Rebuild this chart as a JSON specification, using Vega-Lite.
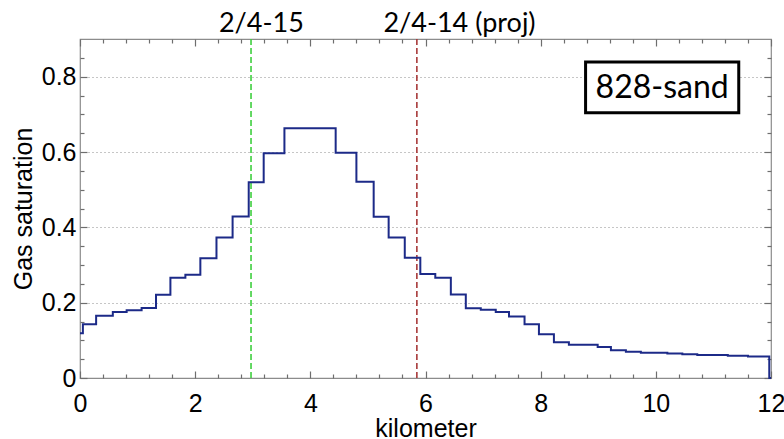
{
  "$schema": "https://vega.github.io/schema/vega-lite/v6.json",
  "width": 691,
  "height": 339,
  "autosize": "none",
  "padding": {"left": 80, "top": 39, "right": 13, "bottom": 61},
  "background": "white",
  "config": {
    "view": {"stroke": "#8c8c8c", "strokeWidth": 1.2},
    "axis": {
      "labelFont": "Liberation Sans",
      "titleFont": "Liberation Sans",
      "labelColor": "black",
      "titleColor": "black",
      "labelFontSize": 25,
      "titleFontSize": 25,
      "titleFontWeight": "normal",
      "domain": false,
      "tickColor": "#6e6e6e",
      "tickWidth": 1.2,
      "labelFlush": false,
      "labelOverlap": false,
      "grid": false
    }
  },
  "datasets": {
    "profile": [
      {"km": 0, "sat": 0.119},
      {"km": 0.05, "sat": 0.143},
      {"km": 0.28, "sat": 0.165},
      {"km": 0.57, "sat": 0.175},
      {"km": 0.81, "sat": 0.18},
      {"km": 1.07, "sat": 0.186},
      {"km": 1.32, "sat": 0.221},
      {"km": 1.57, "sat": 0.266},
      {"km": 1.83, "sat": 0.274},
      {"km": 2.09, "sat": 0.318},
      {"km": 2.37, "sat": 0.373},
      {"km": 2.65, "sat": 0.429},
      {"km": 2.93, "sat": 0.52},
      {"km": 3.19, "sat": 0.597},
      {"km": 3.55, "sat": 0.663},
      {"km": 4.44, "sat": 0.598},
      {"km": 4.8, "sat": 0.521},
      {"km": 5.1, "sat": 0.428},
      {"km": 5.36, "sat": 0.373},
      {"km": 5.64, "sat": 0.319},
      {"km": 5.91, "sat": 0.276},
      {"km": 6.17, "sat": 0.266},
      {"km": 6.44, "sat": 0.222},
      {"km": 6.7, "sat": 0.185},
      {"km": 6.96, "sat": 0.181},
      {"km": 7.22, "sat": 0.175},
      {"km": 7.45, "sat": 0.163},
      {"km": 7.72, "sat": 0.143},
      {"km": 7.97, "sat": 0.116},
      {"km": 8.23, "sat": 0.095},
      {"km": 8.49, "sat": 0.088},
      {"km": 8.99, "sat": 0.082},
      {"km": 9.22, "sat": 0.074},
      {"km": 9.48, "sat": 0.07},
      {"km": 9.74, "sat": 0.067},
      {"km": 10.2, "sat": 0.065},
      {"km": 10.46, "sat": 0.063},
      {"km": 10.72, "sat": 0.061},
      {"km": 11.25, "sat": 0.059},
      {"km": 11.6, "sat": 0.057},
      {"km": 11.97, "sat": 0},
      {"km": 12.0, "sat": 0}
    ],
    "wells": [
      {"well": "2/4-15", "km": 2.97, "labelKm": 3.15, "labelY": 0.919},
      {"well": "2/4-14 (proj)", "km": 5.85, "labelKm": 6.59, "labelY": 0.919}
    ],
    "box": [
      {"name": "828-sand", "x1": 8.78, "x2": 11.44, "y1": 0.704, "y2": 0.839, "cx": 10.11, "cy": 0.744}
    ]
  },
  "resolve": {"axis": {"x": "independent", "y": "independent"}},
  "layer": [
    {
      "data": {"name": "wells"},
      "mark": {"type": "rule", "strokeWidth": 1.6, "strokeDash": [6, 3]},
      "encoding": {
        "x": {
          "field": "km", "type": "quantitative",
          "scale": {"domain": [0, 12], "nice": false, "zero": false},
          "axis": {"orient": "bottom", "values": [0.4, 0.8, 1.2, 1.6, 2.4, 2.8, 3.2, 3.6, 4.4, 4.8, 5.2, 5.6, 6.4, 6.8, 7.2, 7.6, 8.4, 8.8, 9.2, 9.6, 10.4, 10.8, 11.2, 11.6], "labels": false, "offset": -4, "tickSize": 4, "title": null}
        },
        "color": {
          "field": "well", "type": "nominal",
          "scale": {"domain": ["2/4-15", "2/4-14 (proj)"], "range": ["#3fcf3f", "#a83a3a"]},
          "legend": null
        }
      }
    },
    {
      "data": {"name": "profile"},
      "mark": {"type": "line", "interpolate": "step-after", "color": "#1c2a88", "strokeWidth": 2},
      "encoding": {
        "x": {
          "field": "km", "type": "quantitative",
          "scale": {"domain": [0, 12], "nice": false, "zero": false},
          "axis": {"orient": "bottom", "values": [0, 2, 4, 6, 8, 10, 12], "format": "d", "offset": -7, "tickSize": 7, "labelPadding": 13, "title": "kilometer", "titlePadding": 0}
        },
        "y": {
          "field": "sat", "type": "quantitative",
          "scale": {"domain": [0, 0.9], "nice": false, "zero": false},
          "axis": {"orient": "left", "values": [0, 0.2, 0.4, 0.6, 0.8], "format": "~g", "offset": -7, "tickSize": 7, "labelPadding": 4, "grid": true, "gridDash": [1, 3], "gridColor": "#8c8c8c", "gridWidth": 1, "title": "Gas saturation", "titlePadding": 5}
        }
      }
    },
    {
      "data": {"name": "wells"},
      "mark": {"type": "text", "font": "Lato", "fontSize": 27, "color": "black", "align": "center", "baseline": "alphabetic", "clip": false},
      "encoding": {
        "x": {
          "field": "labelKm", "type": "quantitative",
          "scale": {"domain": [0, 12], "nice": false, "zero": false},
          "axis": {"orient": "top", "values": [0, 2, 4, 6, 8, 10, 12], "labels": false, "offset": -7, "tickSize": 7, "title": null}
        },
        "y": {
          "field": "labelY", "type": "quantitative",
          "scale": {"domain": [0, 0.9], "nice": false, "zero": false},
          "axis": {"orient": "right", "values": [0, 0.2, 0.4, 0.6, 0.8], "labels": false, "offset": -7, "tickSize": 7, "title": null}
        },
        "text": {"field": "well"}
      }
    },
    {
      "data": {"name": "box"},
      "mark": {"type": "rect", "fill": "white", "stroke": "black", "strokeWidth": 3},
      "encoding": {
        "x": {
          "field": "x1", "type": "quantitative",
          "scale": {"domain": [0, 12], "nice": false, "zero": false},
          "axis": {"orient": "top", "values": [0.4, 0.8, 1.2, 1.6, 2.4, 2.8, 3.2, 3.6, 4.4, 4.8, 5.2, 5.6, 6.4, 6.8, 7.2, 7.6, 8.4, 8.8, 9.2, 9.6, 10.4, 10.8, 11.2, 11.6], "labels": false, "offset": -4, "tickSize": 4, "title": null}
        },
        "x2": {"field": "x2"},
        "y": {
          "field": "y1", "type": "quantitative",
          "scale": {"domain": [0, 0.9], "nice": false, "zero": false},
          "axis": {"orient": "right", "values": [0.05, 0.1, 0.15, 0.25, 0.3, 0.35, 0.45, 0.5, 0.55, 0.65, 0.7, 0.75, 0.85], "labels": false, "offset": -4, "tickSize": 4, "title": null}
        },
        "y2": {"field": "y2"}
      }
    },
    {
      "data": {"name": "box"},
      "mark": {"type": "text", "font": "Lato", "fontSize": 32, "color": "black", "align": "center", "baseline": "alphabetic"},
      "encoding": {
        "x": {
          "field": "cx", "type": "quantitative",
          "scale": {"domain": [0, 12], "nice": false, "zero": false},
          "axis": null
        },
        "y": {
          "field": "cy", "type": "quantitative",
          "scale": {"domain": [0, 0.9], "nice": false, "zero": false},
          "axis": {"orient": "left", "values": [0.05, 0.1, 0.15, 0.25, 0.3, 0.35, 0.45, 0.5, 0.55, 0.65, 0.7, 0.75, 0.85], "labels": false, "offset": -4, "tickSize": 4, "title": null}
        },
        "text": {"field": "name"}
      }
    }
  ]
}
